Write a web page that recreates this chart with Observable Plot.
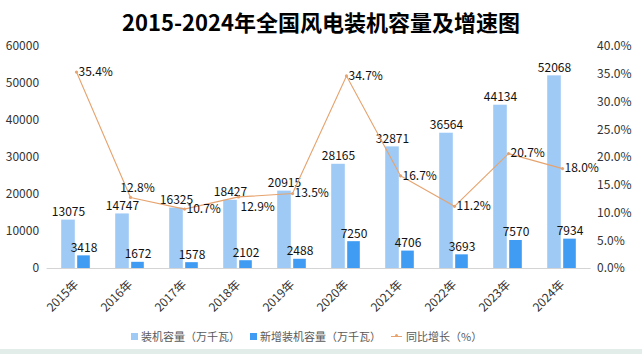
<!DOCTYPE html>
<html><head><meta charset="utf-8">
<script src="https://cdn.jsdelivr.net/npm/d3@7"></script>
<script src="https://cdn.jsdelivr.net/npm/@observablehq/plot@0.6"></script>
<style>
html,body{margin:0;padding:0;background:#fff}
body{width:642px;height:354px;overflow:hidden;font-family:"Noto Sans CJK SC","Noto Sans",sans-serif;position:relative}
#title{height:36px;line-height:42px;text-align:center;font-size:22px;font-weight:bold;color:#000}
#chart{height:282px}
#legend{position:absolute;left:131px;top:326px;height:20px;display:flex;align-items:center;font-size:11px;color:#595959;white-space:nowrap}
#legend .item{display:flex;align-items:center;margin-right:10px}
#legend .sw{width:7px;height:7px;margin-right:3px}
#legend .ln{width:11px;height:1px;margin-right:4px;position:relative}
#legend .ln::after{content:"";position:absolute;left:4px;top:-1.5px;width:3px;height:3px;border-radius:50%;background:inherit}
#bottom{position:absolute;left:0;right:0;bottom:0;height:5px;background:#e2ece9}
</style></head><body>
<div id="title">2015-2024年全国风电装机容量及增速图</div>
<div id="chart"></div>
<div id="legend"></div>
<div id="bottom"></div>
<script>
const years = ["2015年","2016年","2017年","2018年","2019年","2020年","2021年","2022年","2023年","2024年"];
const capacity = [13075,14747,16325,18427,20915,28165,32871,36564,44134,52068];
const added = [3418,1672,1578,2102,2488,7250,4706,3693,7570,7934];
const growth = [35.4,12.8,10.7,12.9,13.5,34.7,16.7,11.2,20.7,18.0];
const leftTicks = [0,10000,20000,30000,40000,50000,60000];
const rightTicks = [0,5,10,15,20,25,30,35,40];
const seriesNames = ["装机容量（万千瓦）","新增装机容量（万千瓦）","同比增长（%）"];
const colors = ["#9fcaf6","#3f9cf2","#e6a36e"];

const k = 60000 / 40;
const rows = years.map((y, i) => ({year: y, cap: capacity[i], add: added[i], g: growth[i], gy: growth[i] * k}));
const above = new Set(["2016年"]);
const below = new Set(["2018年"]);

const font = "Noto Sans CJK SC";
const chart = Plot.plot({
  width: 642, height: 282,
  marginTop: 10, marginBottom: 50, marginLeft: 46.6, marginRight: 51.4,
  style: {fontFamily: font, fontSize: "12px", color: "#333", background: "transparent"},
  x: {type: "band", domain: years, padding: 0, axis: null},
  y: {domain: [0, 60000], axis: null},
  marks: [
    Plot.axisY({ticks: leftTicks, anchor: "left", tickSize: 0, tickPadding: 8, tickFormat: d => String(d), label: null, fontSize: 12}),
    Plot.axisY({ticks: rightTicks.map(v => v * k), anchor: "right", tickSize: 0, tickPadding: 6, tickFormat: d => (d / k).toFixed(1) + "%", label: null, fontSize: 12}),
    Plot.axisX({tickSize: 0, tickPadding: 14, tickRotate: -45, label: null, fontSize: 12}),
    Plot.ruleY([0], {stroke: "#d4d4d4", strokeWidth: 1}),
    Plot.barY(rows, {x: "year", y: "cap", fill: colors[0], insetLeft: 12.2, insetRight: 28.2}),
    Plot.barY(rows, {x: "year", y: "add", fill: colors[1], insetLeft: 28.2, insetRight: 13.2}),
    Plot.text(rows, {x: "year", y: "cap", text: d => String(d.cap), dx: -8, dy: -4, lineAnchor: "bottom", fill: "#111", fontSize: 12}),
    Plot.text(rows, {x: "year", y: "add", text: d => String(d.add), dx: 7.5, dy: -4, lineAnchor: "bottom", fill: "#111", fontSize: 12}),
    Plot.line(rows, {x: "year", y: "gy", stroke: colors[2], strokeWidth: 1.1}),
    Plot.dot(rows, {x: "year", y: "gy", r: 1.6, fill: colors[2]}),
    Plot.text(rows.filter(d => !above.has(d.year) && !below.has(d.year)), {x: "year", y: "gy", text: d => d.g.toFixed(1) + "%", textAnchor: "start", dx: 2, fill: "#111", fontSize: 12}),
    Plot.text(rows.filter(d => below.has(d.year)), {x: "year", y: "gy", text: d => d.g.toFixed(1) + "%", textAnchor: "start", dx: 2, dy: 10, fill: "#111", fontSize: 12}),
    Plot.text(rows.filter(d => above.has(d.year)), {x: "year", y: "gy", text: d => d.g.toFixed(1) + "%", textAnchor: "middle", dx: 7, dy: -9, fill: "#111", fontSize: 12})
  ]
});
document.getElementById("chart").appendChild(chart);

const legend = document.getElementById("legend");
seriesNames.forEach((name, i) => {
  const it = document.createElement("div");
  it.className = "item";
  const sw = document.createElement("span");
  sw.className = i < 2 ? "sw" : "ln";
  sw.style.background = colors[i];
  it.appendChild(sw);
  const t = document.createElement("span");
  t.textContent = name;
  it.appendChild(t);
  legend.appendChild(it);
});
</script>
</body></html>
